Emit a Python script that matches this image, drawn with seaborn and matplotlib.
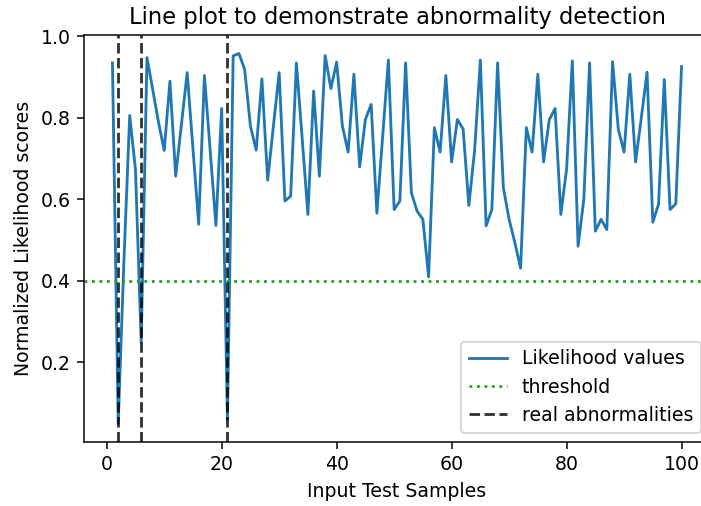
import numpy as np
import pandas as pd
import matplotlib
matplotlib.use("Agg")
import matplotlib.pyplot as plt
import seaborn as sns

samples = list(range(1, 101))
likelihood = [
    0.935, 0.05, 0.45, 0.806, 0.674, 0.249, 0.948, 0.87, 0.79, 0.72,
    0.89, 0.657, 0.784, 0.911, 0.725, 0.539, 0.904, 0.72, 0.536, 0.823,
    0.06, 0.952, 0.958, 0.919, 0.78, 0.721, 0.896, 0.647, 0.78, 0.911,
    0.596, 0.608, 0.935, 0.75, 0.563, 0.866, 0.657, 0.953, 0.872, 0.937,
    0.78, 0.716, 0.907, 0.68, 0.796, 0.833, 0.566, 0.754, 0.942, 0.575,
    0.596, 0.935, 0.616, 0.571, 0.551, 0.41, 0.776, 0.716, 0.904, 0.692,
    0.796, 0.773, 0.585, 0.72, 0.942, 0.535, 0.575, 0.935, 0.629, 0.551,
    0.494, 0.431, 0.776, 0.716, 0.907, 0.692, 0.796, 0.823, 0.563, 0.674,
    0.94, 0.485, 0.6, 0.935, 0.522, 0.551, 0.526, 0.938, 0.772, 0.716,
    0.907, 0.692, 0.80, 0.912, 0.544, 0.588, 0.894, 0.575, 0.589, 0.926,
]
threshold = 0.4
abnormal_samples = [2, 6, 21]

df = pd.DataFrame({"sample": samples, "likelihood": likelihood})

DPI = 135.5
fig = plt.figure(figsize=(701 / DPI, 506 / DPI), dpi=DPI)
ax = fig.add_axes([84 / 701, 1 - 442 / 506, (710 - 84) / 701, (442 - 35) / 506])

sns.lineplot(data=df, x="sample", y="likelihood", ax=ax, color="#1f77b4",
             linewidth=1.5, label="Likelihood values")
ax.axhline(threshold, color="#2ca02c", linestyle=":", linewidth=1.5, label="threshold")
for i, s in enumerate(abnormal_samples):
    ax.axvline(s, color="k", alpha=0.8, linestyle="--", linewidth=1.5,
               label="real abnormalities" if i == 0 else "_nolegend_")

ax.set_title("Line plot to demonstrate abnormality detection", fontsize=12)
ax.set_xlabel("Input Test Samples", fontsize=10)
ax.set_ylabel("Normalized Likelihood scores", fontsize=10)
ax.set_xticks([0, 20, 40, 60, 80, 100])
ax.set_yticks([0.2, 0.4, 0.6, 0.8, 1.0])
ax.legend(loc="lower right", fontsize=10)

fig.savefig("out.png", dpi=DPI)
